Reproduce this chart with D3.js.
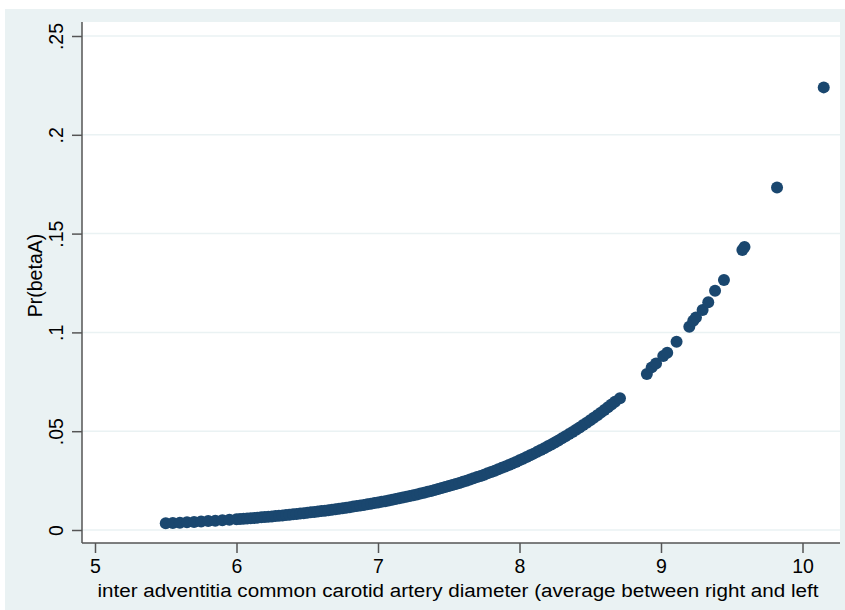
<!DOCTYPE html>
<html lang="en">
<head>
<meta charset="UTF-8">
<title>Pr(betaA) scatter</title>
<script src="https://d3js.org/d3.v7.min.js"></script>
<style>
  body { margin: 0; background: #ffffff; }
  text { font-family: "Liberation Sans", Arial, Helvetica, sans-serif; fill: #000; }
</style>
</head>
<body>
<svg id="chart" width="845" height="610"></svg>
<script>
// diameter (x) and predicted probability (y)
var diam = [5.50, 5.55, 5.60, 5.65, 5.70, 5.75, 5.80, 5.85, 5.90, 5.95,
            6.00, 6.025, 6.05, 6.075, 6.10, 6.125, 6.15, 6.175, 6.20, 6.225,
            6.25, 6.275, 6.30, 6.325, 6.35, 6.375, 6.40, 6.425, 6.45, 6.475,
            6.50, 6.525, 6.55, 6.575, 6.60, 6.625, 6.65, 6.675, 6.70, 6.725,
            6.75, 6.775, 6.80, 6.825, 6.85, 6.875, 6.90, 6.925, 6.95, 6.975,
            7.00, 7.025, 7.05, 7.075, 7.10, 7.125, 7.15, 7.175, 7.20, 7.225,
            7.25, 7.275, 7.30, 7.325, 7.35, 7.375, 7.40, 7.425, 7.45, 7.475,
            7.50, 7.525, 7.55, 7.575, 7.60, 7.625, 7.65, 7.675, 7.70, 7.725,
            7.75, 7.775, 7.80, 7.825, 7.85, 7.875, 7.90, 7.925, 7.95, 7.975,
            8.00, 8.025, 8.05, 8.075, 8.10, 8.125, 8.15, 8.175, 8.20, 8.225,
            8.25, 8.275, 8.30, 8.325, 8.35, 8.375, 8.40, 8.425, 8.45, 8.475,
            8.50, 8.525, 8.55, 8.575, 8.60, 8.625, 8.65, 8.675, 8.71,
            8.90, 8.934, 8.965, 9.016, 9.044, 9.11, 9.20, 9.228, 9.247, 9.294,
            9.334, 9.382, 9.445, 9.575, 9.59, 9.82, 10.15];
var prBeta = [.00339, .00355, .00372, .00390, .00409, .00429, .00450, .00472, .00494, .00518,
              .00543, .00556, .00570, .00583, .00597, .00612, .00626, .00641, .00656, .00672,
              .00688, .00705, .00721, .00739, .00756, .00774, .00793, .00812, .00831, .00851,
              .00871, .00892, .00913, .00935, .00957, .00980, .01003, .01027, .01052, .01077,
              .01102, .01128, .01155, .01183, .01211, .01240, .01269, .01299, .01330, .01361,
              .01394, .01427, .01460, .01495, .01531, .01567, .01604, .01642, .01681, .01720,
              .01761, .01802, .01845, .01889, .01933, .01979, .02025, .02073, .02122, .02172,
              .02223, .02275, .02328, .02383, .02439, .02496, .02555, .02614, .02676, .02738,
              .02802, .02868, .02935, .03003, .03073, .03144, .03218, .03292, .03369, .03447,
              .03527, .03609, .03693, .03778, .03865, .03954, .04046, .04139, .04234, .04332,
              .04431, .04533, .04637, .04743, .04852, .04962, .05076, .05191, .05310, .05430,
              .05554, .05680, .05808, .05940, .06074, .06211, .06351, .06493, .06670,
              .0789, .0823, .0843, .0880, .0897, .0953, .1029, .1059, .1075, .1113,
              .1152, .1211, .1265, .1417, .1432, .1733, .2240];

var xTicks = [5, 6, 7, 8, 9, 10];
var yTicks = [0, .05, .1, .15, .2, .25];
var yTickLabels = ["0", ".05", ".1", ".15", ".2", ".25"];
var xTitle = "inter adventitia common carotid artery diameter (average between right and left";
var yTitle = "Pr(betaA)";

var points = diam.map(function(d, i){ return {x: d, y: prBeta[i]}; });

var svg = d3.select("#chart");

// plot region edges (careful: "top" is taken by window.top)
var plotL = 82, plotR = 840, plotT = 22, plotB = 543;

// outer stata-ish background
svg.append("rect")
   .attr("x", 5).attr("y", 9)
   .attr("width", 840).attr("height", 601)
   .style("fill", "#eaf2f3");

svg.append("rect")
   .attr("x", plotL).attr("y", plotT)
   .attr("width", plotR - plotL).attr("height", plotB - plotT)
   .style("fill", "#ffffff");

var xScale = d3.scaleLinear().domain([5, 10]).range([95, 802.5]);
var yScale = d3.scaleLinear().domain([0, .25]).range([530, 36]);

// horizontal grid lines
svg.append("g").selectAll("line")
   .data(yTicks)
   .enter().append("line")
   .attr("x1", plotL).attr("x2", plotR)
   .attr("y1", function(d){ return yScale(d); })
   .attr("y2", function(d){ return yScale(d); })
   .style("stroke", "#eaf2f3")
   .style("stroke-width", 1.5);

// x axis
var xAxis = d3.axisBottom(xScale)
              .tickValues(xTicks)
              .tickSize(10)
              .tickFormat(d3.format("d"));
var gx = svg.append("g")
   .attr("transform", "translate(0," + plotB + ")")
   .call(xAxis);
gx.select(".domain").remove();
gx.append("line")
   .attr("x1", plotL).attr("x2", plotR)
   .attr("y1", 0).attr("y2", 0);
gx.selectAll("line").style("stroke", "#555555").style("stroke-width", 1.5);
gx.selectAll(".tick text")
   .style("font-size", "19.5px")
   .style("fill", "#000")
   .attr("y", 30).attr("dy", null);

// y axis, labels rotated like stata does it
var yAxis = d3.axisLeft(yScale)
              .tickValues(yTicks)
              .tickSize(10)
              .tickFormat(function(d, i){ return yTickLabels[i]; });
var gy = svg.append("g")
   .attr("transform", "translate(" + plotL + ",0)")
   .call(yAxis);
gy.select(".domain").remove();
gy.append("line")
   .attr("x1", 0).attr("x2", 0)
   .attr("y1", plotT).attr("y2", plotB);
gy.selectAll("line").style("stroke", "#555555").style("stroke-width", 1.5);
gy.selectAll(".tick text")
   .attr("x", null).attr("dy", null)
   .attr("transform", "translate(-19,0) rotate(-90)")
   .attr("text-anchor", "middle")
   .style("font-size", "19.5px")
   .style("fill", "#000");

// axis titles
svg.append("text")
   .attr("x", (plotL + plotR) / 2 - 3)
   .attr("y", 597)
   .attr("text-anchor", "middle")
   .attr("textLength", 721)
   .attr("lengthAdjust", "spacingAndGlyphs")
   .style("font-size", "18px")
   .text(xTitle);

svg.append("text")
   .attr("transform", "translate(42," + ((plotT + plotB) / 2 - 7) + ") rotate(-90)")
   .attr("text-anchor", "middle")
   .style("font-size", "19.5px")
   .text(yTitle);

// markers
svg.append("g").selectAll("circle")
   .data(points)
   .enter().append("circle")
   .attr("cx", function(d){ return xScale(d.x); })
   .attr("cy", function(d){ return yScale(d.y); })
   .attr("r", 6)
   .style("fill", "#1a476f");
</script>
</body>
</html>
